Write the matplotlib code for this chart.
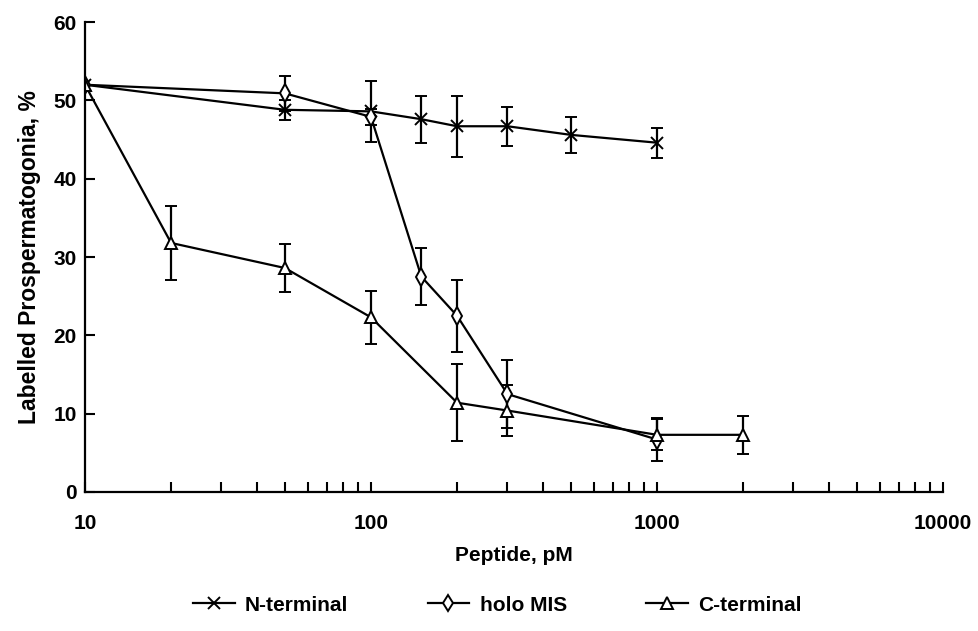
import matplotlib.pyplot as plt
from matplotlib.lines import Line2D

plt.rcParams['font.family'] = ['Liberation Sans', 'DejaVu Sans']

# peptide concentration, pM
n_dose = [10, 50, 100, 150, 200, 300, 500, 1000]
n_val = [52.0, 48.8, 48.6, 47.6, 46.7, 46.7, 45.6, 44.6]
n_err = [0.0, 1.3, 3.9, 3.0, 3.9, 2.5, 2.3, 1.9]

holo_dose = [10, 50, 100, 150, 200, 300, 1000]
holo_val = [52.0, 50.9, 47.9, 27.5, 22.5, 12.5, 6.7]
holo_err = [0.0, 2.2, 1.0, 3.6, 4.6, 4.3, 2.8]

c_dose = [10, 20, 50, 100, 200, 300, 1000, 2000]
c_val = [52.0, 31.8, 28.6, 22.3, 11.4, 10.4, 7.3, 7.3]
c_err = [0.0, 4.7, 3.1, 3.4, 4.9, 3.2, 2.0, 2.4]

labels = ['N-terminal', 'holo MIS', 'C-terminal']
markers = ['x', 'd', '^']

fig = plt.figure(figsize=(9.79, 6.31), dpi=100)
ax = fig.add_axes([0.0868, 0.2203, 0.8764, 0.7447])

style = dict(color='black', lw=1.6, ms=9, mew=1.4, capsize=4, capthick=1.8,
             elinewidth=1.6, mfc='white')
ax.errorbar(n_dose, n_val, yerr=n_err, marker=markers[0], **style)
ax.errorbar(holo_dose, holo_val, yerr=holo_err, marker=markers[1], **style)
ax.errorbar(c_dose, c_val, yerr=c_err, marker=markers[2], **style)

ax.set_xscale('log')
ax.set_xlim(10, 10000)
ax.set_ylim(0, 60)
ax.set_yticks([0, 10, 20, 30, 40, 50, 60])
ax.set_xticks([10, 100, 1000, 10000])
ax.set_xticklabels(['10', '100', '1000', '10000'])

for s in ['top', 'right']:
    ax.spines[s].set_visible(False)
for s in ['left', 'bottom']:
    ax.spines[s].set_linewidth(1.6)

ax.tick_params(axis='both', which='both', direction='in', length=7, width=1.5,
               labelsize=15)
ax.tick_params(axis='x', which='major', pad=16)
ax.tick_params(axis='y', which='major', pad=6)
for lbl in ax.get_xticklabels() + ax.get_yticklabels():
    lbl.set_fontweight('bold')

ax.set_xlabel('Peptide, pM', fontsize=15, fontweight='bold', labelpad=9)
ax.set_ylabel('Labelled Prospermatogonia, %', fontsize=16.5, fontweight='bold',
              labelpad=9)

# legend shows line + marker only, no error bars
handles = [Line2D([], [], color='black', lw=1.6, marker=m, ms=8, mew=1.4,
                  mfc='white') for m in markers]
fig.legend(handles, labels, loc='center', bbox_to_anchor=(0.508, 0.041), ncol=3,
           frameon=False, prop={'size': 15, 'weight': 'bold'},
           handlelength=2.0, columnspacing=3.8, handletextpad=0.5)

fig.savefig('out.png', dpi=100)
